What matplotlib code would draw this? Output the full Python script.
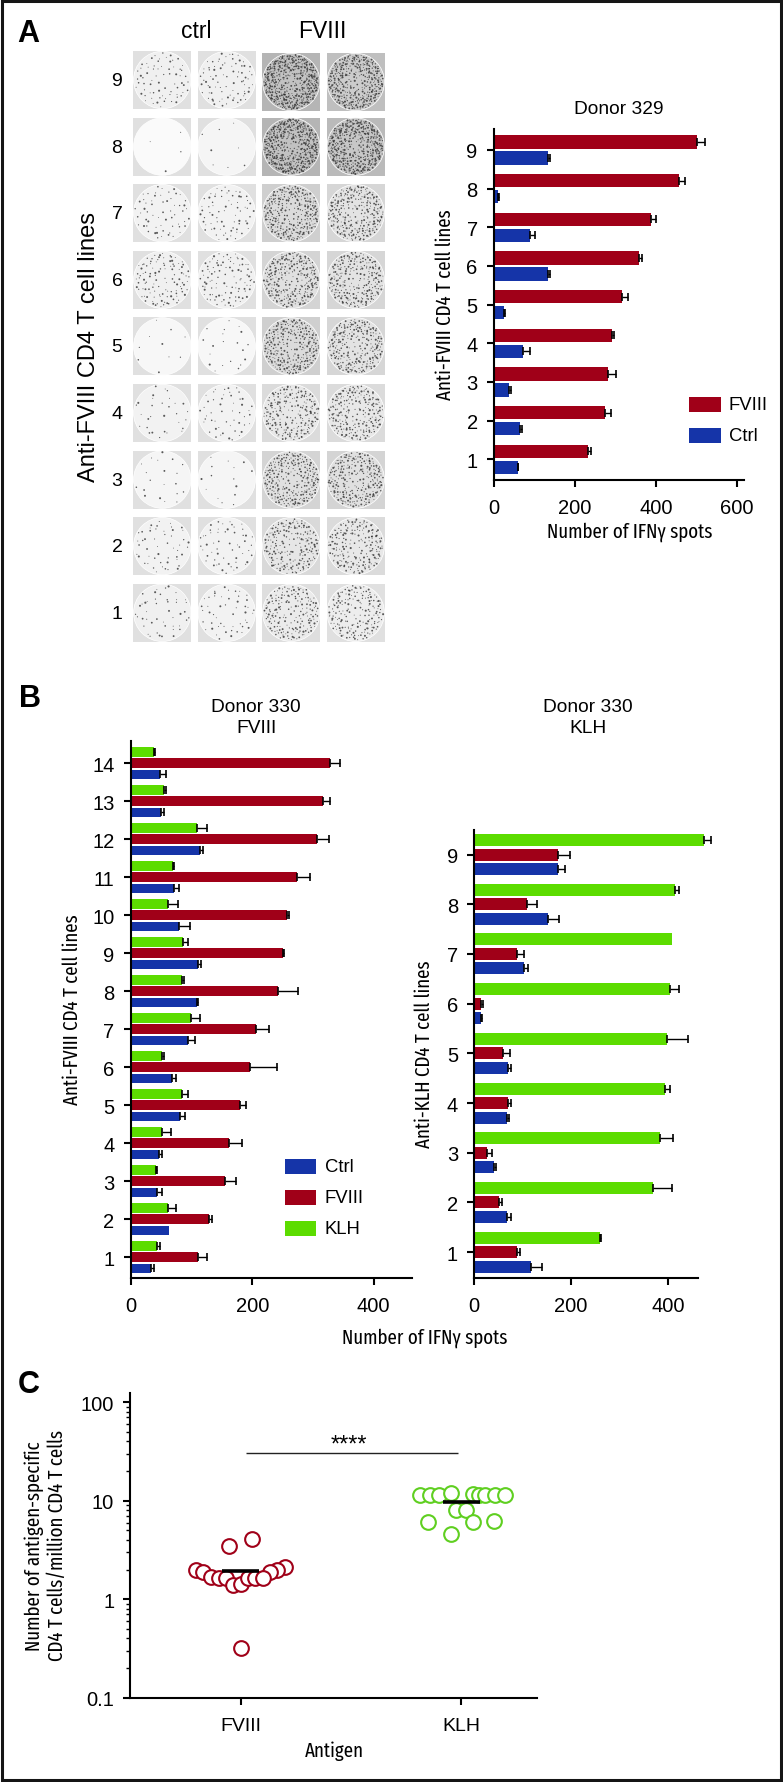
#!/usr/bin/env python3
"""ELISpot figure: well plates, IFNg spot bars for donors 329/330, frequency scatter."""

import matplotlib
matplotlib.use("Agg")
import matplotlib.pyplot as plt
import numpy as np
from matplotlib.patches import Circle, Rectangle
from matplotlib.ticker import LogLocator, NullFormatter

W, H = 783, 1783
RED = "#a00018"
BLUE = "#1534a8"
GREEN = "#5cdc00"
SANS = ["Liberation Sans", "DejaVu Sans"]
NARROW = ["Fira Sans Extra Condensed", "Liberation Sans", "DejaVu Sans"]
NARROW_SIZE = 14.8

plt.rcParams["font.family"] = SANS

# Panel A bars, lines 9 -> 1
a_lines = [9, 8, 7, 6, 5, 4, 3, 2, 1]
a_fviii = [501, 457, 387, 359, 316, 292, 282, 274, 231]
a_fviii_err = [19, 15, 12, 6, 14, 5, 19, 14, 8]
a_ctrl = [133, 10, 88, 133, 24, 71, 38, 64, 59]
a_ctrl_err = [6, 2, 13, 5, 4, 19, 5, 4, 1]

# Panel B left, lines 14 -> 1
bl_lines = [14, 13, 12, 11, 10, 9, 8, 7, 6, 5, 4, 3, 2, 1]
bl_klh = [38, 54, 109, 70, 61, 86, 85, 100, 52, 84, 52, 41, 62, 44]
bl_klh_err = [2, 4, 17, 2, 17, 9, 3, 14, 2, 10, 14, 2, 12, 5]
bl_fviii = [328, 317, 307, 274, 258, 251, 242, 206, 197, 180, 162, 155, 129, 111]
bl_fviii_err = [17, 11, 20, 21, 3, 2, 34, 22, 44, 10, 21, 19, 5, 14]
bl_ctrl = [48, 50, 114, 71, 80, 110, 109, 95, 68, 81, 46, 44, 63, 33]
bl_ctrl_err = [10, 4, 5, 9, 18, 6, 1, 11, 7, 8, 6, 7, 0, 5]

# Panel B right, lines 9 -> 1
br_lines = [9, 8, 7, 6, 5, 4, 3, 2, 1]
br_klh = [474, 415, 408, 405, 399, 394, 384, 369, 259]
br_klh_err = [16, 8, 0, 19, 42, 11, 26, 39, 3]
br_fviii = [173, 109, 88, 14, 59, 69, 27, 51, 88]
br_fviii_err = [25, 21, 15, 3, 15, 7, 9, 7, 7]
br_ctrl = [172, 153, 103, 13, 70, 68, 40, 68, 117]
br_ctrl_err = [16, 23, 8, 2, 5, 4, 5, 7, 23]

# Panel C points
c_fviii_x = [0.050, -0.051, 0.201, 0.166, 0.133, -0.203, -0.169, -0.133, -0.098, -0.067,
             -0.033, 0.000, 0.033, 0.066, 0.100, 0.000]
c_fviii_y = [4.13, 3.48, 2.13, 1.97, 1.90, 1.96, 1.87, 1.70, 1.65, 1.65,
             1.41, 1.43, 1.65, 1.65, 1.65, 0.32]
c_klh_x = [0.811, 0.856, 0.900, 0.953, 1.052, 1.080, 1.105, 1.152, 1.196,
           0.976, 1.019, 0.850, 1.052, 1.149, 0.953]
c_klh_y = [11.56, 11.56, 11.56, 12.0, 11.65, 11.56, 11.56, 11.56, 11.56,
           8.0, 8.1, 6.05, 6.05, 6.25, 4.61]
c_means = [1.92, 9.74]
c_labels = ["FVIII", "KLH"]
c_sig_level = 30.6

# Wells: rough spot count per plate photo, rows 9 -> 1, columns ctrl ctrl FVIII FVIII
well_rows = [9, 8, 7, 6, 5, 4, 3, 2, 1]
well_spots = [
    [70, 80, 460, 380],
    [4, 8, 460, 440],
    [60, 70, 290, 260],
    [110, 100, 270, 240],
    [10, 20, 280, 250],
    [30, 50, 210, 220],
    [20, 15, 260, 250],
    [50, 55, 200, 200],
    [45, 50, 180, 180],
]
well_shade = [
    [0.94, 0.94, 0.76, 0.80],
    [0.98, 0.96, 0.76, 0.78],
    [0.95, 0.95, 0.86, 0.89],
    [0.94, 0.94, 0.88, 0.89],
    [0.97, 0.97, 0.86, 0.89],
    [0.95, 0.95, 0.91, 0.91],
    [0.96, 0.96, 0.88, 0.88],
    [0.95, 0.95, 0.90, 0.91],
    [0.94, 0.95, 0.92, 0.93],
]


def axes_px(fig, left, top, right, bottom):
    return fig.add_axes([left / W, 1 - bottom / H, (right - left) / W, (bottom - top) / H])


def style_axes(ax):
    for side in ["top", "right"]:
        ax.spines[side].set_visible(False)
    for side in ["left", "bottom"]:
        ax.spines[side].set_linewidth(1.5)
    ax.tick_params(axis="y", length=5.2, width=1.5, labelsize=14.5, pad=6.5)
    ax.tick_params(axis="x", length=5.2, width=1.5, labelsize=14.5, pad=7.5)
    ax.set_facecolor("none")


def hbars(ax, lines, offset, height, values, errs, color):
    y = np.array(lines) + offset
    values = np.array(values)
    errs = np.array(errs)
    ax.barh(y, values, height=height, color=color, linewidth=0, clip_on=False)
    # bars without a visible whisker in the reference get no cap either
    keep = errs > 0
    cont = ax.errorbar(values[keep], y[keep], xerr=[np.zeros(keep.sum()), errs[keep]], fmt="none",
                       ecolor="black", elinewidth=1.0, capsize=2.8, capthick=1.2)
    for art in list(cont.lines[1]) + list(cont.lines[2]):
        art.set_clip_on(False)


def halton(i, base):
    out, f = 0.0, 1.0
    while i > 0:
        f /= base
        out += f * (i % base)
        i //= base
    return out


def draw_wells(ov):
    """Well photos are only imitated: a low-discrepancy sequence spreads the spots."""
    col_x = [133.3, 197.7, 262.3, 326.7]
    size = 58
    start = 1
    for r, row in enumerate(well_rows):
        top = 52 + r * 66.6
        ov.text(117, top + 29.5, str(row), ha="center", va="center", fontsize=14)
        for c, x in enumerate(col_x):
            shift = 2 if (c >= 2 and r == 0) else 0
            shade = well_shade[r][c]
            ov.add_patch(Rectangle((x, top + shift), size, size, lw=0,
                                   fc=str(min(shade - 0.05, 0.88))))
            cx, cy = x + size / 2, top + shift + size / 2
            ov.add_patch(Circle((cx, cy), size / 2 - 0.3, fc=str(shade), ec="white", lw=0.5))
            n = well_spots[r][c]
            idx = np.arange(start, start + n)
            start += n + 17
            u = np.array([halton(i, 2) for i in idx])
            v = np.array([halton(i, 3) for i in idx])
            w = np.array([halton(i, 5) for i in idx])
            rad = (size / 2 - 1.5) * u ** 0.38
            ang = v * 2 * np.pi
            ov.scatter(cx + rad * np.cos(ang), cy + rad * np.sin(ang), s=0.4 + 2.0 * w ** 2,
                       c="#1e1e1e", linewidths=0, alpha=0.72)


fig = plt.figure(figsize=(W / 100, H / 100), dpi=100)

# overlay in pixel coordinates for the frame, well photos and free text
ov = fig.add_axes([0, 0, 1, 1], zorder=0)
ov.set_xlim(0, W)
ov.set_ylim(H, 0)
ov.axis("off")
ov.add_patch(Rectangle((1.5, 1.5), W - 4, H - 3.5, fc="none", ec="#151515", lw=2.2))

draw_wells(ov)
ov.text(196, 32, "ctrl", ha="center", va="center", fontsize=16.5)
ov.text(322, 32, "FVIII", ha="center", va="center", fontsize=16.5)
ov.text(89, 347, "Anti-FVIII CD4 T cell lines", rotation=90, ha="center", va="center", fontsize=17)

for letter, x, y in [("A", 17, 34), ("B", 19, 699), ("C", 18, 1385)]:
    ov.text(x, y, letter, ha="left", va="center", fontsize=22, fontweight="bold")

ov.text(619, 110, "Donor 329", ha="center", va="center", fontsize=13.8)
ov.text(256, 718, "Donor 330\nFVIII", ha="center", va="center", fontsize=13.8, linespacing=1.3)
ov.text(588, 718, "Donor 330\nKLH", ha="center", va="center", fontsize=13.8, linespacing=1.3)

ov.text(630, 532, "Number of IFN\u03b3 spots", ha="center", va="center", fontsize=NARROW_SIZE, family=NARROW)
ov.text(445, 305, "Anti-FVIII CD4 T cell lines", rotation=90, ha="center", va="center",
        fontsize=NARROW_SIZE, family=NARROW)
ov.text(72, 1010, "Anti-FVIII CD4 T cell lines", rotation=90, ha="center", va="center",
        fontsize=NARROW_SIZE, family=NARROW)
ov.text(424, 1054, "Anti-KLH CD4 T cell lines", rotation=90, ha="center", va="center",
        fontsize=NARROW_SIZE, family=NARROW)
ov.text(425, 1338, "Number of IFN\u03b3 spots", ha="center", va="center", fontsize=NARROW_SIZE, family=NARROW)
ov.text(46, 1546, "Number of antigen-specific\nCD4 T cells/million CD4 T cells", rotation=90,
        ha="center", va="center", fontsize=NARROW_SIZE, family=NARROW, linespacing=1.2)
ov.text(334, 1751, "Antigen", ha="center", va="center", fontsize=NARROW_SIZE, family=NARROW)

# Panel A
ax = axes_px(fig, 494, 130, 744.3, 481)
style_axes(ax)
hbars(ax, a_lines, 0.207, 0.345, a_fviii, a_fviii_err, RED)
hbars(ax, a_lines, -0.207, 0.345, a_ctrl, a_ctrl_err, BLUE)
ax.set_xlim(0, 618)
ax.set_ylim(0.465, 9.54)
ax.set_yticks(a_lines)
ax.set_xticks([0, 200, 400, 600])
ov.add_patch(Rectangle((689.3, 398), 31.7, 15, fc=RED, lw=0))
ov.add_patch(Rectangle((689.3, 429), 31.7, 15, fc=BLUE, lw=0))
ov.text(729, 405.5, "FVIII", va="center", fontsize=13.3)
ov.text(729, 436.5, "Ctrl", va="center", fontsize=13.3)

# Panel B left
ax = axes_px(fig, 130.7, 741.7, 412, 1279)
style_axes(ax)
hbars(ax, bl_lines, 0.298, 0.25, bl_klh, bl_klh_err, GREEN)
hbars(ax, bl_lines, 0, 0.25, bl_fviii, bl_fviii_err, RED)
hbars(ax, bl_lines, -0.298, 0.25, bl_ctrl, bl_ctrl_err, BLUE)
ax.set_xlim(0, 463)
ax.set_ylim(0.45, 14.59)
ax.set_yticks(bl_lines)
ax.set_xticks([0, 200, 400])
for y, color, name in [(1160, BLUE, "Ctrl"), (1191, RED, "FVIII"), (1222, GREEN, "KLH")]:
    ov.add_patch(Rectangle((284.7, y), 31.7, 15, fc=color, lw=0))
    ov.text(325, y + 7.5, name, va="center", fontsize=13.3)

# Panel B right
ax = axes_px(fig, 474.3, 830.7, 698.3, 1279)
style_axes(ax)
hbars(ax, br_lines, 0.292, 0.241, br_klh, br_klh_err, GREEN)
hbars(ax, br_lines, 0, 0.241, br_fviii, br_fviii_err, RED)
hbars(ax, br_lines, -0.292, 0.241, br_ctrl, br_ctrl_err, BLUE)
ax.set_xlim(0, 463)
ax.set_ylim(0.48, 9.5)
ax.set_yticks(br_lines)
ax.set_xticks([0, 200, 400])

# Panel C
ax = axes_px(fig, 130.4, 1394, 536.8, 1698.7)
style_axes(ax)
ax.set_yscale("log")
ax.set_xlim(-0.5, 1.342)
ax.set_ylim(0.1, 124)
ax.scatter(c_fviii_x, c_fviii_y, s=112, facecolors="white", edgecolors=RED, linewidths=1.5, zorder=3)
ax.scatter(c_klh_x, c_klh_y, s=112, facecolors="white", edgecolors="#5fcf20", linewidths=1.5, zorder=3)
ax.hlines(c_means, [-0.084, 0.916], [0.084, 1.084], colors="black", linewidth=2.6, zorder=4)
ax.hlines(c_sig_level, 0.023, 0.987, colors="#222222", linewidth=1.0)
ax.text(0.491, c_sig_level * 1.22, "****", ha="center", va="center", fontsize=17)
ax.set_xticks([0, 1])
ax.set_xticklabels(c_labels, fontsize=14)
ax.set_yticks([0.1, 1, 10, 100])
ax.set_yticklabels(["0.1", "1", "10", "100"])
ax.yaxis.set_minor_locator(LogLocator(base=10, subs=range(2, 10), numticks=12))
ax.yaxis.set_minor_formatter(NullFormatter())
ax.tick_params(axis="y", which="minor", length=3, width=1.0)
ax.tick_params(axis="x", pad=9)

plt.savefig("out.png", dpi=100)
plt.close()
